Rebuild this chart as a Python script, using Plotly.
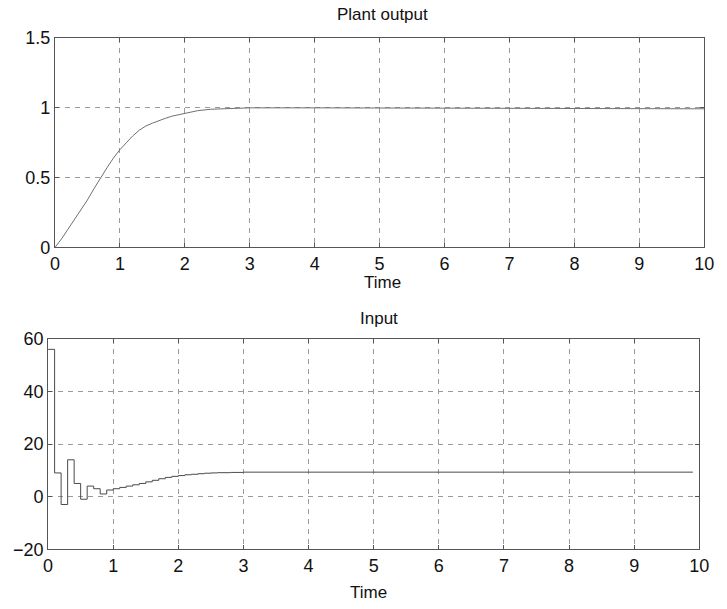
import plotly.graph_objects as go

# Plant output (sampled response)
t_out = [0, 0.1, 0.2, 0.3, 0.4, 0.5, 0.6, 0.7, 0.8, 0.9, 1.0, 1.1, 1.2, 1.3, 1.4,
         1.5, 1.6, 1.7, 1.8, 1.9, 2.0, 2.2, 2.4, 2.6, 3.0, 4.0, 5.0, 6.0, 7.0, 8.0, 9.0, 10.0]
y_out = [0, 0.06, 0.13, 0.2, 0.27, 0.34, 0.42, 0.5, 0.57, 0.64, 0.70, 0.75, 0.80, 0.84, 0.87,
         0.89, 0.91, 0.925, 0.94, 0.95, 0.96, 0.98, 0.99, 0.995, 1.0, 1.0, 0.998, 0.997, 0.996, 0.995, 0.994, 0.993]

# Control input (zero-order hold, sample time 0.1)
t_in = [0, 0.1, 0.2, 0.3, 0.4, 0.5, 0.6, 0.7, 0.8, 0.9, 1.0, 1.1, 1.2, 1.3, 1.4, 1.5, 1.6,
        1.7, 1.8, 1.9, 2.0, 2.1, 2.2, 2.3, 2.4, 2.5, 2.6, 2.8, 3.0, 9.9]
u_in = [56, 9, -3, 14, 5, -1, 4, 3, 1, 2.5, 3.0, 3.5, 4.0, 4.5, 5.0, 5.6, 6.2,
        6.8, 7.3, 7.7, 8.0, 8.3, 8.5, 8.7, 8.9, 9.0, 9.1, 9.2, 9.3, 9.3]

x_ticks = list(range(0, 11))
y1_ticks = [0, 0.5, 1, 1.5]
y2_ticks = [-20, 0, 20, 40, 60]

W, H = 727, 609
fig = go.Figure()
fig.add_trace(go.Scatter(x=t_out, y=y_out, mode="lines",
                         line=dict(color="#707070", width=1), xaxis="x", yaxis="y"))
fig.add_trace(go.Scatter(x=t_in, y=u_in, mode="lines", line_shape="hv",
                         line=dict(color="#4a4a4a", width=1), xaxis="x2", yaxis="y2"))

font = dict(family="Liberation Sans, Arial, sans-serif", size=18, color="#111111")
axis_common = dict(showline=True, linecolor="#555555", linewidth=1, mirror="ticks",
                   ticks="inside", ticklen=4, tickcolor="#555555",
                   showgrid=True, gridcolor="#9a9a9a", gridwidth=1, griddash="5px,5px",
                   zeroline=False, tickfont=font)

fig.update_layout(
    width=W, height=H, margin=dict(l=0, r=0, t=0, b=0),
    paper_bgcolor="white", plot_bgcolor="white", showlegend=False,
    xaxis=dict(domain=[51 / W, 714 / W], range=[0, 10], tickvals=x_ticks, anchor="y", **axis_common),
    yaxis=dict(domain=[1 - 245.5 / H, 1 - 29 / H], range=[0, 1.5], tickvals=y1_ticks,
               ticktext=["0", "0.5", "1", "1.5"], anchor="x", **axis_common),
    xaxis2=dict(domain=[44 / W, 709 / W], range=[0, 10], tickvals=x_ticks, anchor="y2", **axis_common),
    yaxis2=dict(domain=[1 - 557.5 / H, 1 - 340 / H], range=[-20, 60], tickvals=y2_ticks, anchor="x2", **axis_common),
)

tfont = dict(family="Liberation Sans, Arial, sans-serif", size=17, color="#111111")
for txt, xp, yp in [("Plant output", 385, 5), ("Time", 385, 281.5), ("Input", 382, 318.5), ("Time", 371, 602)]:
    fig.add_annotation(text=txt, x=xp / W, y=1 - yp / H, xref="paper", yref="paper",
                       showarrow=False, font=tfont, xanchor="center", yanchor="middle")

fig.write_html("out.html")
